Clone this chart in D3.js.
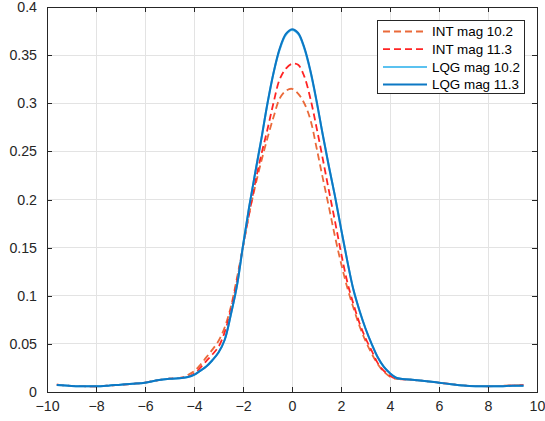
<!DOCTYPE html>
<html>
<head>
<meta charset="utf-8">
<script src="https://cdn.jsdelivr.net/npm/d3@7"></script>
<style>
  html, body { margin: 0; padding: 0; background: #fff; }
  svg { display: block; }
  text { font-family: "Liberation Sans", Arial, Helvetica, sans-serif; }
</style>
</head>
<body>
<svg id="chart" width="545" height="421"></svg>
<script>
// ---- data ----
const xValues = [-9.6,-9,-8.5,-8,-7.5,-7,-6.5,-6,-5.5,-5,-4.5,-4.25,-4,-3.75,-3.5,-3.25,-3,-2.75,-2.5,-2.25,-2,-1.75,-1.5,-1.25,-1,-0.75,-0.5,-0.25,0,0.25,0.5,0.75,1,1.25,1.5,1.75,2,2.25,2.5,2.75,3,3.25,3.5,3.75,4,4.25,4.5,5,5.5,6,6.5,7,7.5,8,8.5,9,9.45];

const int102 = [0.0076,0.0064,0.006,0.0058,0.0066,0.0075,0.0086,0.0098,0.0122,0.0138,0.015,0.0178,0.0215,0.028,0.036,0.044,0.053,0.067,0.088,0.118,0.151,0.185,0.214,0.24,0.264,0.286,0.305,0.313,0.315,0.310,0.300,0.283,0.254,0.223,0.193,0.162,0.134,0.109,0.088,0.069,0.053,0.040,0.029,0.021,0.016,0.0136,0.0132,0.0124,0.0112,0.0097,0.0082,0.0068,0.0062,0.006,0.0064,0.0069,0.0073];

const int113 = [0.0076,0.0064,0.006,0.0058,0.0066,0.0075,0.0086,0.0098,0.0122,0.0138,0.0148,0.016,0.019,0.025,0.032,0.039,0.047,0.062,0.085,0.115,0.151,0.185,0.218,0.247,0.273,0.301,0.325,0.336,0.341,0.340,0.328,0.305,0.275,0.243,0.210,0.178,0.145,0.115,0.092,0.072,0.056,0.043,0.030,0.022,0.017,0.0138,0.0132,0.0124,0.0112,0.0097,0.0082,0.0068,0.0062,0.006,0.0063,0.0068,0.0073];

const lqg102 = [0.0073,0.0063,0.006,0.0059,0.0066,0.0076,0.0085,0.0097,0.0122,0.0137,0.0145,0.0155,0.0177,0.022,0.0265,0.033,0.041,0.054,0.080,0.110,0.152,0.192,0.228,0.263,0.300,0.332,0.356,0.371,0.376,0.372,0.357,0.333,0.302,0.268,0.235,0.204,0.170,0.137,0.107,0.085,0.066,0.050,0.036,0.026,0.0194,0.0148,0.0135,0.0125,0.0112,0.0097,0.0081,0.0067,0.006,0.0059,0.006,0.0065,0.0066];

const lqg113 = [0.0073,0.0063,0.006,0.0059,0.0066,0.0076,0.0085,0.0097,0.0122,0.0137,0.0145,0.0155,0.0177,0.022,0.0265,0.033,0.041,0.054,0.080,0.110,0.152,0.192,0.228,0.263,0.300,0.332,0.357,0.372,0.377,0.373,0.358,0.334,0.303,0.268,0.235,0.204,0.170,0.137,0.107,0.085,0.066,0.050,0.036,0.026,0.0194,0.0148,0.0135,0.0125,0.0112,0.0097,0.0081,0.0067,0.006,0.0059,0.006,0.0065,0.0066];

const seriesNames = ["INT mag 10.2", "INT mag 11.3", "LQG mag 10.2", "LQG mag 11.3"];
const xTicks = [-10,-8,-6,-4,-2,0,2,4,6,8,10];
const yTicks = [0,0.05,0.1,0.15,0.2,0.25,0.3,0.35,0.4];

// ---- styles ----
const styles = [
  { color: "#EA6A3A", dash: "7,4", width: 1.8 },
  { color: "#FF2424", dash: "7,4", width: 1.8 },
  { color: "#5BC2F0", dash: null, width: 2 },
  { color: "#0C78C4", dash: null, width: 2 }
];
const seriesValues = [int102, int113, lqg102, lqg113];

const W = 545, H = 421;
const m = { left: 47, right: 8, top: 7, bottom: 29 };
const svg = d3.select("#chart");

const x = d3.scaleLinear().domain([-10, 10]).range([m.left, W - m.right]);
const y = d3.scaleLinear().domain([0, 0.4]).range([H - m.bottom, m.top]);

const axisColor = "#262626";
const gridColor = "#E3E3E3";

// grid
const grid = svg.append("g");
grid.selectAll(".gx").data(xTicks.slice(1, -1)).join("line")
  .attr("x1", d => x(d)).attr("x2", d => x(d))
  .attr("y1", m.top).attr("y2", H - m.bottom)
  .attr("stroke", gridColor).attr("stroke-width", 1).attr("shape-rendering", "crispEdges");
grid.selectAll(".gy").data(yTicks.slice(1, -1)).join("line")
  .attr("x1", m.left).attr("x2", W - m.right)
  .attr("y1", d => y(d)).attr("y2", d => y(d))
  .attr("stroke", gridColor).attr("stroke-width", 1).attr("shape-rendering", "crispEdges");

// lines
const line = d3.line()
  .x((d, i) => x(xValues[i]))
  .y(d => y(d))
  .curve(d3.curveCatmullRom.alpha(0.5));

const plot = svg.append("g");
seriesValues.forEach((vals, k) => {
  plot.append("path")
    .datum(vals)
    .attr("d", line)
    .attr("fill", "none")
    .attr("stroke", styles[k].color)
    .attr("stroke-width", styles[k].width)
    .attr("stroke-dasharray", styles[k].dash)
    .attr("stroke-linejoin", "round");
});

// axes (MATLAB-like, ticks inward, boxed)
const tickLen = 5;
const tickFont = "14.2px";
const legendFont = "13.4px";
const xAxisB = d3.axisBottom(x).tickValues(xTicks).tickSize(-tickLen).tickPadding(9).tickFormat(d3.format("d"));
const xAxisT = d3.axisTop(x).tickValues(xTicks).tickSize(-tickLen).tickFormat("");
const yAxisL = d3.axisLeft(y).tickValues(yTicks).tickSize(-tickLen).tickPadding(10).tickFormat(d => d === 0 ? "0" : String(+d.toFixed(2)));
const yAxisR = d3.axisRight(y).tickValues(yTicks).tickSize(-tickLen).tickFormat("");

function styleAxis(g) {
  g.select(".domain").attr("stroke", axisColor).attr("stroke-width", 1).attr("shape-rendering", "crispEdges");
  g.selectAll(".tick line").attr("stroke", axisColor).attr("shape-rendering", "crispEdges");
  g.selectAll(".tick text").attr("fill", axisColor).style("font-size", tickFont)
    .style("font-family", '"Liberation Sans", Arial, Helvetica, sans-serif');
}
svg.append("g").attr("transform", `translate(0,${H - m.bottom})`).call(xAxisB).call(styleAxis);
svg.append("g").attr("transform", `translate(0,${m.top})`).call(xAxisT).call(styleAxis);
svg.append("g").attr("transform", `translate(${m.left},0)`).call(yAxisL).call(styleAxis);
svg.append("g").attr("transform", `translate(${W - m.right},0)`).call(yAxisR).call(styleAxis);

// legend
const lg = { x: 377, y: 20, w: 147, h: 73, row: 17.7, first: 31.5 };
const legend = svg.append("g");
legend.append("rect")
  .attr("x", lg.x + 0.5).attr("y", lg.y + 0.5).attr("width", lg.w).attr("height", lg.h)
  .attr("fill", "#fff").attr("stroke", axisColor).attr("stroke-width", 1);
seriesNames.forEach((name, k) => {
  const cy = lg.first + k * lg.row;
  legend.append("line")
    .attr("x1", 383).attr("x2", 427).attr("y1", cy).attr("y2", cy)
    .attr("stroke", styles[k].color).attr("stroke-width", styles[k].width)
    .attr("stroke-dasharray", styles[k].dash);
  legend.append("text")
    .attr("x", 432).attr("y", cy).attr("dy", "0.35em")
    .attr("fill", "#000").style("font-size", legendFont)
    .text(name);
});
</script>
</body>
</html>
